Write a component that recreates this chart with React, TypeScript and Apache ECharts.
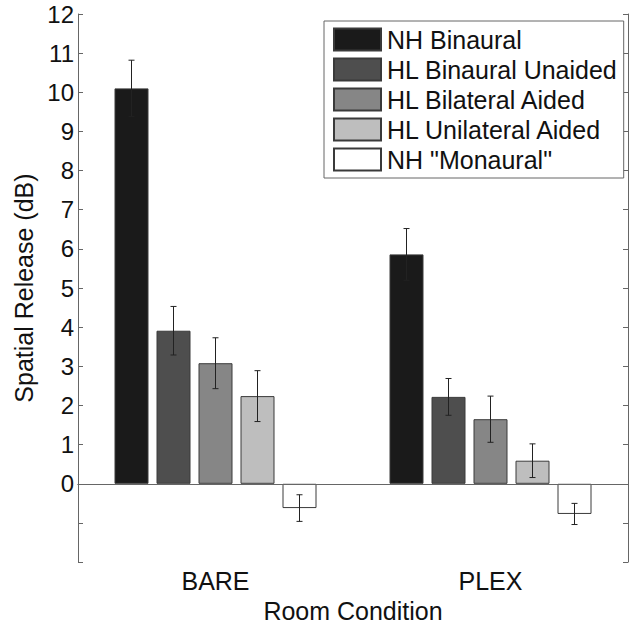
import React, { useEffect, useRef } from "react";
import * as echarts from "echarts";

const categories = ["BARE", "PLEX"];
const seriesNames = [
  "NH Binaural",
  "HL Binaural Unaided",
  "HL Bilateral Aided",
  "HL Unilateral Aided",
  'NH "Monaural"',
];
const colors = ["#1a1a1a", "#4e4e4e", "#868686", "#bebebe", "#ffffff"];
// values per series: [BARE, PLEX]
const nhBinaural = [10.1, 5.86];
const hlBinauralUnaided = [3.91, 2.22];
const hlBilateralAided = [3.08, 1.65];
const hlUnilateralAided = [2.24, 0.59];
const nhMonaural = [-0.62, -0.77];
const values = [nhBinaural, hlBinauralUnaided, hlBilateralAided, hlUnilateralAided, nhMonaural];
// error half-widths per series: [BARE, PLEX]
const errNhBinaural = [0.72, 0.66];
const errHlBinauralUnaided = [0.62, 0.47];
const errHlBilateralAided = [0.65, 0.59];
const errHlUnilateralAided = [0.65, 0.43];
const errNhMonaural = [0.34, 0.27];
const errors = [errNhBinaural, errHlBinauralUnaided, errHlBilateralAided, errHlUnilateralAided, errNhMonaural];
const yTicks = [-2, 12, 1];

const FONT = "Liberation Sans, Arial, Helvetica, sans-serif";
const BAR_W = 34;
const BAR_GAP = 8;

export default function App() {
  const ref = useRef<HTMLDivElement>(null);
  useEffect(() => {
    if (!ref.current) return;
    const chart = echarts.init(ref.current, null, { renderer: "svg" });
    const errData: number[][] = [];
    values.forEach((vals, s) => {
      vals.forEach((v, c) => errData.push([c, v, errors[s][c], s]));
    });
    const axisColor = "#666";
    const bars = seriesNames.map((name, s) => ({
      name,
      type: "bar",
      data: values[s],
      barWidth: BAR_W,
      barGap: (BAR_GAP / BAR_W) * 100 + "%",
      itemStyle: { color: colors[s], borderColor: "#3a3a3a", borderWidth: 1 },
      z: 2,
      ...(s === 0
        ? {
            markLine: {
              silent: true,
              symbol: "none",
              label: { show: false },
              lineStyle: { color: axisColor, type: "solid", width: 1 },
              data: [{ yAxis: 0 }],
              z: 3,
            },
          }
        : {}),
    }));
    chart.setOption({
      animation: false,
      backgroundColor: "#fff",
      textStyle: { fontFamily: FONT },
      grid: { left: 78, top: 14, right: 12, bottom: 65 },
      legend: {
        data: seriesNames,
        orient: "vertical",
        left: 324,
        top: 21,
        padding: [6, 6, 6, 9],
        itemWidth: 47,
        itemHeight: 22,
        itemGap: 5,
        icon: "rect",
        borderColor: axisColor,
        borderWidth: 1,
        backgroundColor: "#fff",
        textStyle: { fontSize: 25, color: "#111", fontFamily: FONT, lineHeight: 25, padding: [0, 0, 0, 1] },
      },
      xAxis: [
        {
          type: "category",
          data: categories,
          name: "Room Condition",
          nameLocation: "middle",
          nameGap: 33,
          nameTextStyle: { fontSize: 25, color: "#111", fontFamily: FONT },
          axisLine: { lineStyle: { color: axisColor } },
          axisTick: { inside: true, alignWithLabel: true, length: 5, lineStyle: { color: axisColor } },
          axisLabel: { fontSize: 25, color: "#111", margin: 6, fontFamily: FONT },
        },
        {
          type: "category",
          data: categories,
          position: "top",
          axisLine: { lineStyle: { color: axisColor } },
          axisTick: { inside: true, alignWithLabel: true, length: 5, lineStyle: { color: axisColor } },
          axisLabel: { show: false },
        },
      ],
      yAxis: [
        {
          type: "value",
          min: yTicks[0],
          max: yTicks[1],
          interval: yTicks[2],
          name: "Spatial Release (dB)",
          nameLocation: "middle",
          nameGap: 38,
          nameTextStyle: { fontSize: 25, color: "#111", fontFamily: FONT },
          axisLine: { show: true, lineStyle: { color: axisColor } },
          axisTick: { show: true, inside: true, length: 5, lineStyle: { color: axisColor } },
          axisLabel: {
            fontSize: 24,
            color: "#111",
            margin: 4,
            fontFamily: FONT,
            formatter: (v: number) => (v >= 0 ? String(v) : ""),
          },
          splitLine: { show: false },
        },
        {
          type: "value",
          min: yTicks[0],
          max: yTicks[1],
          interval: yTicks[2],
          position: "right",
          axisLine: { show: true, lineStyle: { color: axisColor } },
          axisTick: { show: true, inside: true, length: 5, lineStyle: { color: axisColor } },
          axisLabel: { show: false },
          splitLine: { show: false },
        },
      ],
      series: [
        ...bars,
        {
          type: "custom",
          name: "errors",
          z: 5,
          data: errData,
          renderItem: (params: any, api: any) => {
            const c = api.value(0);
            const v = api.value(1);
            const e = api.value(2);
            const s = api.value(3);
            const off = (s - 2) * (BAR_W + BAR_GAP);
            const top = api.coord([c, v + e]);
            const bot = api.coord([c, v - e]);
            const x = top[0] + off;
            const cap = 3;
            const style = { stroke: "#222", lineWidth: 1 };
            return {
              type: "group",
              children: [
                { type: "line", shape: { x1: x, y1: top[1], x2: x, y2: bot[1] }, style },
                { type: "line", shape: { x1: x - cap, y1: top[1], x2: x + cap, y2: top[1] }, style },
                { type: "line", shape: { x1: x - cap, y1: bot[1], x2: x + cap, y2: bot[1] }, style },
              ],
            };
          },
        },
      ],
    });
    return () => chart.dispose();
  }, []);
  return <div ref={ref} style={{ width: 640, height: 628, position: "absolute", left: 0, top: 0 }} />;
}
